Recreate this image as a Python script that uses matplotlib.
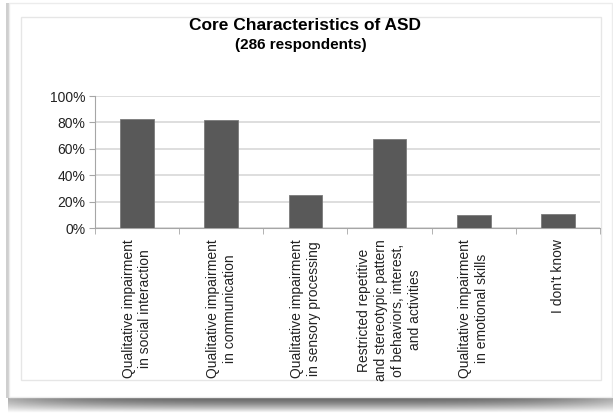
import numpy as np
import matplotlib
matplotlib.use("Agg")
import matplotlib.pyplot as plt
from matplotlib.patches import Rectangle

plt.rcParams['font.family'] = ['Liberation Sans', 'DejaVu Sans']

categories = [
    "Qualitative impairment\nin social interaction",
    "Qualitative impairment\nin communication",
    "Qualitative impairment\nin sensory processing",
    "Restricted repetitive\nand stereotypic pattern\nof behaviors, interest,\nand activities",
    "Qualitative impairment\nin emotional skills",
    "I don't know",
]
values = [82.5, 81.5, 25.2, 67.3, 9.7, 10.4]
yticks = [0, 20, 40, 60, 80, 100]
ytick_labels = ["0%", "20%", "40%", "60%", "80%", "100%"]

W, H = 613, 413
fig = plt.figure(figsize=(W / 100, H / 100), dpi=100)
fig.patch.set_facecolor('white')

# background card / frame
bg = fig.add_axes([0, 0, 1, 1])
bg.set_xlim(0, W)
bg.set_ylim(H, 0)
bg.axis('off')
# bottom shadow gradient
yy = np.linspace(0, 1, 20)[:, None]
xx = np.linspace(-1, 1, 200)[None, :]
shade = 1 - (1 - yy ** 1.5) * 0.6 * (1 - 0.45 * xx ** 4)
bg.imshow(shade, extent=[8, 613, 413, 397], cmap='gray', vmin=0, vmax=1,
          aspect='auto', zorder=0)
# left shadow edge
bg.add_patch(Rectangle((6, 3), 3, 395, facecolor='#cfcfcf', edgecolor='none', zorder=1))
bg.add_patch(Rectangle((9, 3), 603, 394, facecolor='white', edgecolor='#ececec', lw=1, zorder=1))
bg.add_patch(Rectangle((21, 17), 580, 363, facecolor='white', edgecolor='#e6e6e6', lw=1, zorder=2))

ax = fig.add_axes([95 / W, 1 - 228 / H, (600 - 95) / W, (228 - 96) / H])
x = np.arange(len(categories))
ax.bar(x, values, width=0.4, color='#595959', edgecolor='#7a7a7a', linewidth=0.6, zorder=3)
ax.set_xlim(-0.5, len(categories) - 0.5)
ax.set_ylim(0, 100)
ax.set_yticks(yticks)
ax.set_yticklabels(ytick_labels, fontsize=10, color='#222222')
ax.yaxis.grid(True, color='#d4d4d4', linewidth=1.1, zorder=0)
ax.set_axisbelow(True)
for s in ['top', 'right']:
    ax.spines[s].set_visible(False)
ax.spines['left'].set_color('#a6a6a6')
ax.spines['bottom'].set_color('#a6a6a6')
ax.tick_params(axis='y', length=4, color='#a6a6a6', pad=3)
ax.set_xticks(np.arange(len(categories) + 1) - 0.5, minor=True)
ax.set_xticks(x)
ax.set_xticklabels(categories, rotation=90, fontsize=10, ha='center', va='top',
                   multialignment='center', linespacing=1.25, color='#222222')
ax.tick_params(axis='x', which='major', length=0, pad=8)
ax.tick_params(axis='x', which='minor', length=4, color='#a6a6a6')

fig.text(305 / W, 1 - 26 / H, "Core Characteristics of ASD", ha='center', va='center',
         fontsize=12.5, fontweight='bold')
fig.text(301 / W, 1 - 45 / H, "(286 respondents)", ha='center', va='center',
         fontsize=11, fontweight='bold')

fig.savefig('out.png', dpi=100)
